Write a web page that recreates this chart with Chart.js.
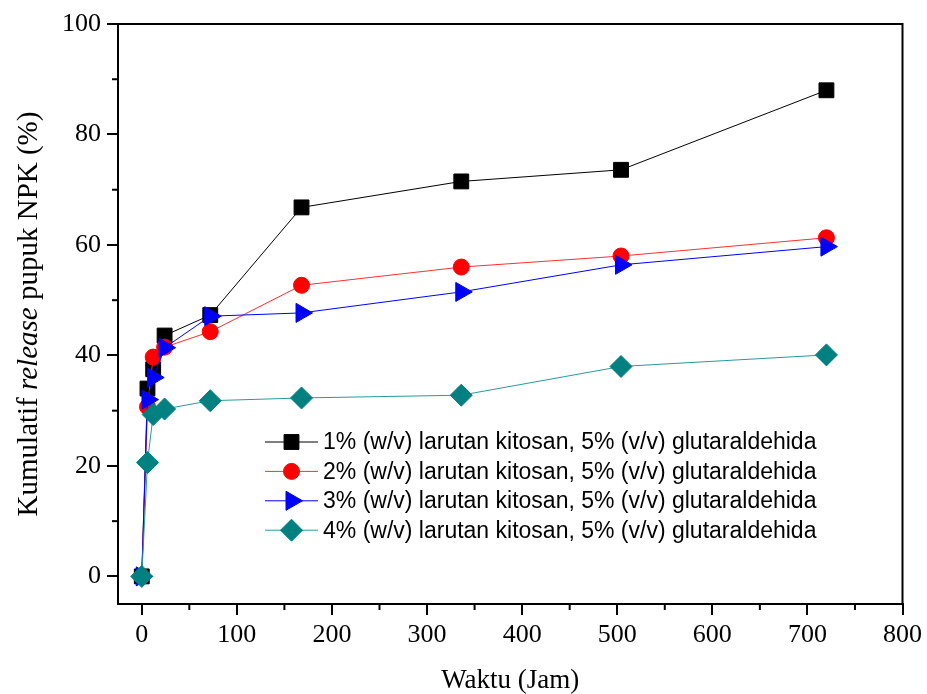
<!DOCTYPE html>
<html>
<head>
<meta charset="utf-8">
<script src="https://cdn.jsdelivr.net/npm/chart.js@4.4.1/dist/chart.umd.min.js"></script>
<style>
  html, body { margin: 0; padding: 0; background: #fff; }
  #wrap { width: 927px; height: 694px; }
</style>
</head>
<body>
<div id="wrap"><canvas id="c" width="927" height="694"></canvas></div>
<script>
// waktu (jam)
const hours = [0, 6, 12, 24, 72, 168, 336, 504, 720];

// kumulatif release (%)
const release1 = [0, 34.0, 37.5, 43.6, 47.3, 66.8, 71.5, 73.6, 88.0];
const release2 = [0, 30.7, 39.7, 41.5, 44.3, 52.7, 56.0, 58.0, 61.3];
const release3 = [0, 32.0, 36.0, 41.4, 47.1, 47.7, 51.5, 56.4, 59.7];
const release4 = [0, 20.6, 29.3, 30.3, 31.8, 32.3, 32.8, 38.0, 40.1];

const seriesLabels = [
  '1% (w/v) larutan kitosan, 5% (v/v) glutaraldehida',
  '2% (w/v) larutan kitosan, 5% (v/v) glutaraldehida',
  '3% (w/v) larutan kitosan, 5% (v/v) glutaraldehida',
  '4% (w/v) larutan kitosan, 5% (v/v) glutaraldehida'
];

const xTicks = [0, 100, 200, 300, 400, 500, 600, 700, 800];
const yTicks = [0, 20, 40, 60, 80, 100];

const serif = "'Liberation Serif', 'Times New Roman', serif";
const sans = "'Liberation Sans', Arial, sans-serif";

function toPoints(ys) {
  return hours.map((h, i) => ({ x: h, y: ys[i] }));
}

const datasets = [
  { label: seriesLabels[0], data: toPoints(release1), borderColor: '#000000', backgroundColor: '#000000',
    pointStyle: 'rect', pointRadius: 10.5, order: 4 },
  { label: seriesLabels[1], data: toPoints(release2), borderColor: '#ff3030', backgroundColor: '#ff0000',
    pointBorderColor: '#ff0000', pointStyle: 'circle', pointRadius: 8, order: 3 },
  { label: seriesLabels[2], data: toPoints(release3), borderColor: '#0000ff', backgroundColor: '#0000ff',
    pointStyle: 'triangle', pointRotation: 90, pointRadius: 11, order: 2 },
  { label: seriesLabels[3], data: toPoints(release4), borderColor: '#2a9a9a', backgroundColor: '#008080',
    pointBorderColor: '#008080', pointStyle: 'rectRot', pointRadius: 11, order: 1 }
];
datasets.forEach(d => {
  d.borderWidth = 1;
  d.pointBorderWidth = 1;
  d.pointHoverRadius = d.pointRadius;
  d.tension = 0;
  d.clip = false;
});

// minor ticks + y title + legend
const decorPlugin = {
  id: 'decor',
  afterDraw(chart) {
    const ctx = chart.ctx;
    const xs = chart.scales.x, ys = chart.scales.y;
    const area = chart.chartArea;
    ctx.save();
    ctx.strokeStyle = '#000';
    ctx.lineWidth = 2;
    // minor ticks
    for (let v = 50; v < 800; v += 100) {
      const px = xs.getPixelForValue(v);
      ctx.beginPath(); ctx.moveTo(px, area.bottom); ctx.lineTo(px, area.bottom + 6); ctx.stroke();
    }
    for (let v = 10; v < 100; v += 20) {
      const py = ys.getPixelForValue(v);
      ctx.beginPath(); ctx.moveTo(area.left, py); ctx.lineTo(area.left - 6, py); ctx.stroke();
    }
    // top and right border
    ctx.beginPath();
    ctx.moveTo(area.left, area.top); ctx.lineTo(area.right, area.top); ctx.lineTo(area.right, area.bottom);
    ctx.stroke();

    // y axis title with italic word
    const parts = [
      { t: 'Kumulatif ', f: '29px ' + serif },
      { t: 'release', f: 'italic 29px ' + serif },
      { t: ' pupuk NPK (%)', f: '29px ' + serif }
    ];
    let total = 0;
    parts.forEach(p => { ctx.font = p.f; p.w = ctx.measureText(p.t).width; total += p.w; });
    ctx.translate(29, 314);
    ctx.rotate(-Math.PI / 2);
    ctx.fillStyle = '#000';
    ctx.textBaseline = 'middle';
    ctx.textAlign = 'left';
    let cx = -total / 2;
    parts.forEach(p => { ctx.font = p.f; ctx.fillText(p.t, cx, 0); cx += p.w; });
    ctx.setTransform(1, 0, 0, 1, 0, 0);

    // legend
    const lx = 265, ly = 442, rowH = 29.4;
    chart.data.datasets.forEach((d, i) => {
      const y = ly + i * rowH;
      ctx.strokeStyle = d.borderColor;
      ctx.lineWidth = 1;
      ctx.beginPath(); ctx.moveTo(lx, y); ctx.lineTo(lx + 53, y); ctx.stroke();
      ctx.fillStyle = d.backgroundColor;
      ctx.strokeStyle = d.pointBorderColor || d.borderColor;
      Chart.helpers.drawPoint(ctx, {
        pointStyle: d.pointStyle, radius: d.pointRadius, rotation: d.pointRotation || 0, borderWidth: 1
      }, lx + 26.5, y);
      ctx.fillStyle = '#000';
      ctx.font = '23px ' + sans;
      ctx.textBaseline = 'middle';
      ctx.fillText(d.label, lx + 58, y + 1);
    });
    ctx.restore();
  }
};

new Chart(document.getElementById('c'), {
  type: 'line',
  data: { datasets: datasets },
  plugins: [decorPlugin],
  options: {
    responsive: false,
    animation: false,
    events: [],
    layout: { padding: { top: 24, right: 22, left: 0, bottom: 0 } },
    plugins: { legend: { display: false }, tooltip: { enabled: false } },
    scales: {
      x: {
        type: 'linear',
        min: -25, max: 800,
        afterBuildTicks: s => { s.ticks = xTicks.map(v => ({ value: v })); },
        afterFit: s => { s.height = 90; },
        border: { color: '#000', width: 2 },
        grid: { drawOnChartArea: false, color: '#000', lineWidth: 2, tickLength: 11 },
        ticks: { color: '#000', font: { family: serif, size: 26 }, padding: 5, maxRotation: 0 },
        title: { display: true, text: 'Waktu (Jam)', color: '#000', font: { family: serif, size: 27, lineHeight: 1 }, padding: 0 }
      },
      y: {
        type: 'linear',
        min: -5, max: 100,
        afterBuildTicks: s => { s.ticks = yTicks.map(v => ({ value: v })); },
        afterFit: s => { s.width = 118; },
        border: { color: '#000', width: 2 },
        grid: { drawOnChartArea: false, color: '#000', lineWidth: 2, tickLength: 11 },
        ticks: { color: '#000', font: { family: serif, size: 26 }, padding: 6 }
      }
    }
  }
});
</script>
</body>
</html>
